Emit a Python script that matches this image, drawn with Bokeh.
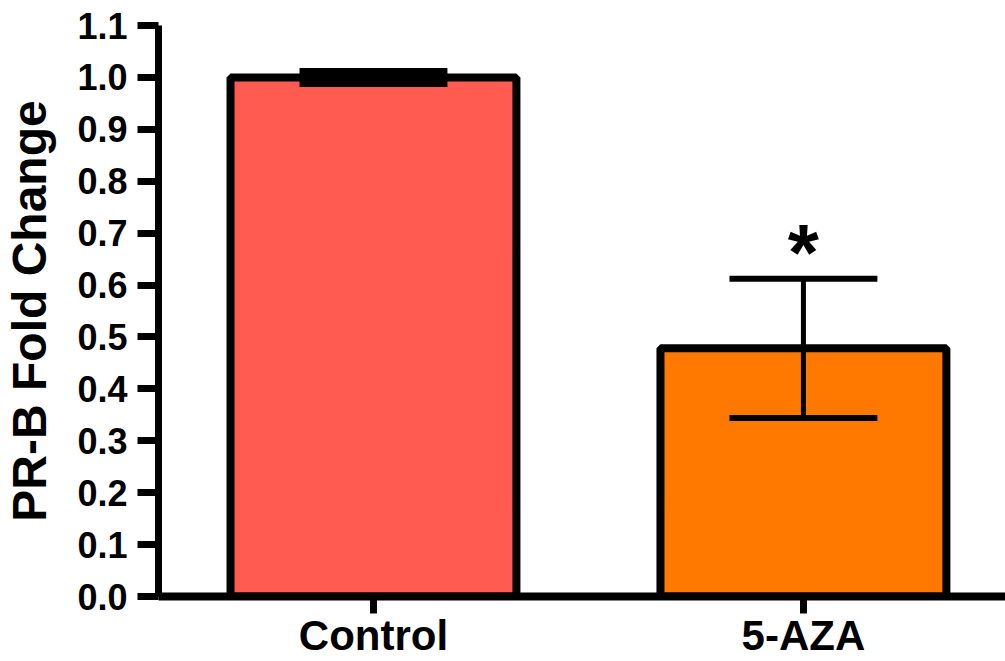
from bokeh.plotting import figure
from bokeh.models import Range1d, FixedTicker, PrintfTickFormatter
from bokeh.core.properties import value
from bokeh.embed import file_html
from bokeh.resources import INLINE

# PR-B expression (fold change vs control), mean +/- SEM
groups = ["Control", "5-AZA"]
fold_change = [1.0, 0.478]
sem = [0.0125, 0.134]
colors = ["#FF5B51", "#FF7800"]
y_ticks = [0.0, 0.1, 0.2, 0.3, 0.4, 0.5, 0.6, 0.7, 0.8, 0.9, 1.0, 1.1]
significant = ["", "*"]

FONT = "Liberation Sans"

xs = [i + 0.5 for i in range(len(groups))]
bar_width = 0.665
cap_half = 0.172

p = figure(
    width=1005, height=661,
    x_range=Range1d(0, 1.97), y_range=Range1d(0, 1.1),
    output_backend="svg", toolbar_location=None,
    min_border_left=0, min_border_right=0, min_border_top=25, min_border_bottom=0,
)
p.outline_line_color = None
p.xgrid.visible = False
p.ygrid.visible = False
p.background_fill_color = "white"
p.border_fill_color = "white"

p.vbar(x=xs, top=fold_change, width=bar_width, bottom=0,
       fill_color=colors, line_color="black", line_width=8)

lower = [m - s for m, s in zip(fold_change, sem)]
upper = [m + s for m, s in zip(fold_change, sem)]
p.segment(x0=xs, y0=lower, x1=xs, y1=upper, line_color="black", line_width=5)
p.segment(x0=[x - cap_half for x in xs], y0=upper, x1=[x + cap_half for x in xs], y1=upper,
          line_color="black", line_width=6)
p.segment(x0=[x - cap_half for x in xs], y0=lower, x1=[x + cap_half for x in xs], y1=lower,
          line_color="black", line_width=6)

# significance marker above the upper error cap
p.text(x=xs, y=upper, text=significant, text_align="center", text_baseline="alphabetic",
       y_offset=-26,
       text_font=value(FONT), text_font_style="bold", text_font_size="80px", text_color="black")

# y axis
ya = p.yaxis[0]
ya.ticker = FixedTicker(ticks=y_ticks)
ya.formatter = PrintfTickFormatter(format="%.1f")
ya.minor_tick_line_color = None
ya.axis_line_width = 7
ya.major_tick_line_width = 7
ya.major_tick_out = 21
ya.major_tick_in = 0
ya.major_label_standoff = 10
ya.major_label_text_font = FONT
ya.major_label_text_font_style = "bold"
ya.major_label_text_font_size = "36px"
ya.major_label_text_color = "black"
ya.axis_label = "PR-B Fold Change"
ya.axis_label_text_font = FONT
ya.axis_label_text_font_style = "bold"
ya.axis_label_text_font_size = "48px"
ya.axis_label_text_color = "black"
ya.axis_label_standoff = 18

# x axis
xa = p.xaxis[0]
xa.ticker = FixedTicker(ticks=xs)
xa.major_label_overrides = {x: g for x, g in zip(xs, groups)}
xa.minor_tick_line_color = None
xa.axis_line_width = 8
xa.major_tick_line_width = 7
xa.major_tick_out = 17
xa.major_tick_in = 0
xa.major_label_standoff = -2
xa.major_label_text_font = FONT
xa.major_label_text_font_style = "bold"
xa.major_label_text_font_size = "42px"
xa.major_label_text_color = "black"

open("out.html", "w").write(file_html(p, INLINE))
